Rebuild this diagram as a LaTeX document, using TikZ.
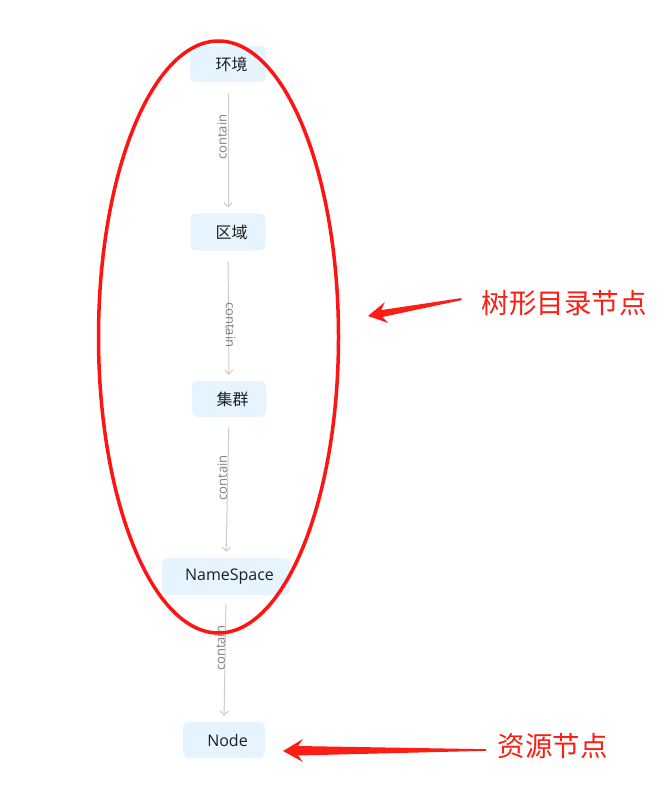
\documentclass[tikz,border=0pt]{standalone}
\usepackage{fontspec}
\setmainfont{Open Sans}
\newfontfamily\cjk{Noto Sans CJK SC}
\usetikzlibrary{arrows.meta}
\definecolor{boxfill}{RGB}{230,244,255}
\definecolor{boxtext}{RGB}{30,30,30}
\definecolor{edgecol}{RGB}{204,204,204}
\definecolor{lblcol}{RGB}{128,128,128}
\definecolor{annred}{RGB}{250,30,20}
\definecolor{ellred}{RGB}{255,20,20}
\tikzset{
  treebox/.style={fill=boxfill, draw=none, rounded corners=6pt, minimum height=36pt, inner sep=0pt, text=boxtext, font=\fontsize{16pt}{18pt}\selectfont},
  edgeline/.style={draw=edgecol, line width=1pt, -{Straight Barb[length=4pt,width=8pt]}},
  lbl/.style={text=lblcol, font=\fontsize{13pt}{15pt}\selectfont, inner sep=0pt},
  anntext/.style={text=annred, font=\cjk\fontsize{27.5pt}{32pt}\selectfont, inner sep=0pt},
}
\begin{document}
\begin{tikzpicture}[x=1pt,y=-1pt]
\useasboundingbox[fill=white] (0,0) rectangle (669,786);

\node[treebox, minimum width=76pt] (env) at (228,64) {\kern7pt\cjk 环境};
\node[treebox, minimum width=75pt, minimum height=37pt] (zone) at (228,232) {\kern7pt\cjk 区域};
\node[treebox, minimum width=74pt] (clus) at (229,399) {\kern7pt\cjk 集群};
\node[treebox, minimum width=128pt, minimum height=37pt] (ns) at (226,576.5) {\kern7pt NameSpace};
\node[treebox, minimum width=82pt] (nd) at (224,740) {\kern7pt Node};

\draw[edgeline, shorten <=11pt, shorten >=6pt] (env.south) -- (zone.north)
  node[lbl, pos=0.42, xshift=-6pt, rotate=90] (l1) {contain};
\draw[edgeline, shorten <=11pt, shorten >=6pt] (zone.south) -- (clus.north)
  node[lbl, pos=0.57, xshift=2pt, rotate=-90] (l2) {contain};
\draw[edgeline, shorten <=10pt, shorten >=6pt] (clus.south) -- (ns.north)
  node[lbl, pos=0.43, xshift=-5.5pt, rotate=90] (l3) {contain};
\draw[edgeline, shorten <=9pt, shorten >=6pt] (ns.south) -- (nd.north)
  node[lbl, pos=0.42, xshift=-5pt, rotate=90] (l4) {contain};

% red ellipse
\draw[ellred, line width=3.5pt] (218.5,337) ellipse [x radius=120, y radius=296];

% red arrows
\fill[annred] (368,316) -- (384.8,302.1) -- (381.2,310.1) -- (461.3,298.1)
  -- (461.7,300.1) -- (382.4,317) -- (388.6,323.1) -- cycle;
\fill[annred] (283,751) -- (303,739) -- (298,746) -- (486,749.2)
  -- (486,750.8) -- (298,755.5) -- (303,762) -- cycle;

\node[anntext] (t1) at (564,303) {树形目录节点};
\node[anntext] (t2) at (552.5,746) {资源节点};
\end{tikzpicture}
\end{document}
